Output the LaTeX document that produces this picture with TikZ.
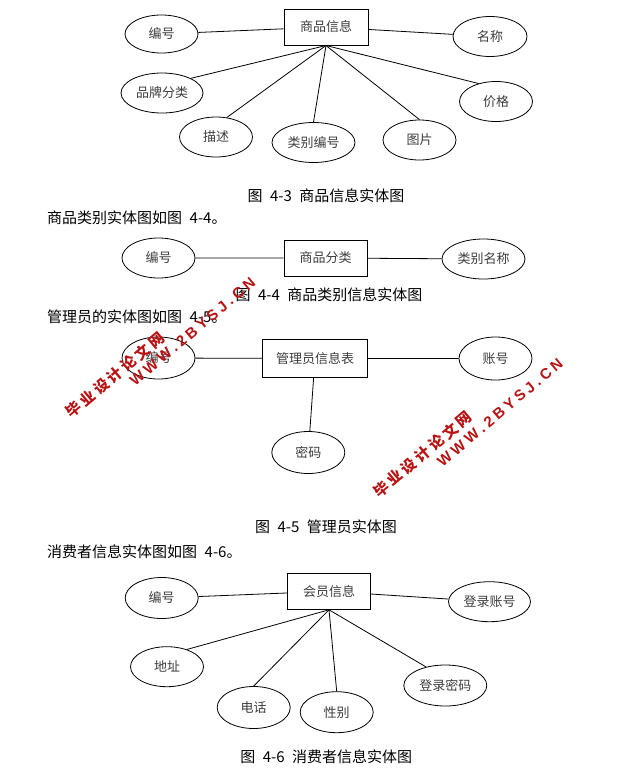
\documentclass[tikz,border=0pt]{standalone}
\usepackage{fontspec}
\setmainfont{Noto Sans CJK SC}
\newfontfamily\wmlatin{Liberation Sans}
\usepackage{tikz}
\usetikzlibrary{shapes.geometric}
\definecolor{wmred}{RGB}{185,18,18}
\definecolor{labgray}{RGB}{60,60,60}
\newcommand{\wmgap}{\hskip3pt}
\newcommand{\wmlgap}{\hskip3.5pt}
\newcommand{\gsp}{\hskip.5em}
\tikzset{
	entity/.style={draw, line width=1pt, minimum height=36pt, inner sep=0pt, text=labgray, font=\fontsize{13}{15}\selectfont},
	attr/.style={ellipse, draw, line width=0.8pt, minimum width=73pt, minimum height=40pt, inner sep=0pt, text=labgray, font=\fontsize{13}{15}\selectfont},
	link/.style={line width=0.8pt},
	body/.style={anchor=west, inner sep=0pt, font=\fontsize{15}{17}\selectfont},
	caption/.style={inner sep=0pt, font=\fontsize{15}{17}\selectfont},
	wmcn/.style={rotate=40, inner sep=0pt, text=wmred, font=\fontsize{15}{17}\selectfont\bfseries},
	wmurl/.style={rotate=40, inner sep=0pt, text=wmred, font=\wmlatin\fontsize{15}{17}\selectfont\bfseries}
}
\begin{document}
\begin{tikzpicture}[x=1pt, y=-1pt]
	\useasboundingbox (0,0) rectangle (639,772);
	\node[entity, minimum width=84pt] (goods) at (326,27) {商品信息};
	\node[attr, minimum height=38pt] (gbh) at (161.5,34) {编号};
	\node[attr, minimum width=74pt] (gmc) at (490,36.5) {名称};
	\node[attr, minimum width=82pt] (gppfl) at (162,93) {品牌分类};
	\node[attr] (gjg) at (496,101.5) {价格};
	\node[attr] (gms) at (216,137) {描述};
	\node[attr, minimum width=83pt] (glbbh) at (313.5,142.5) {类别编号};
	\node[attr] (gtp) at (419.5,140) {图片};
	\draw[link] (gbh) -- (goods) -- (gmc);
	\draw[link] (goods.south) -- (gppfl.27);
	\draw[link] (goods.south) -- (gms.61);
	\draw[link] (goods.south) -- (glbbh.north);
	\draw[link] (goods.south) -- (gtp.north);
	\draw[link] (goods.south) -- (gjg.134);
	\node[caption] (cap1) at (326,195.5) {图\gsp 4-3\gsp 商品信息实体图};
	\node[body] (txt1) at (47,218) {商品类别实体图如图\gsp 4-4。};
	
	\node[entity, minimum width=83pt] (cat) at (325.5,258) {商品分类};
	\node[attr] (cbh) at (158.5,258) {编号};
	\node[attr, minimum width=83pt] (clbmc) at (483.5,259) {类别名称};
	\draw[link] (cbh) -- (cat) -- (clbmc);
	\node[caption] (cap2) at (329,295) {图\gsp 4-4\gsp 商品类别信息实体图};
	\node[body] (txt2) at (47,317) {管理员的实体图如图\gsp 4-5。};
	
	\node[entity, minimum width=105pt, minimum height=38pt] (adm) at (315,358.5) {管理员信息表};
	\node[attr, minimum height=42pt] (abh) at (158.5,358) {编号};
	\node[attr, minimum height=43pt] (azh) at (495.5,358.5) {账号};
	\node[attr, minimum height=42pt] (amm) at (308.3,452.5) {密码};
	\draw[link] (abh) -- (adm) -- (azh);
	\draw[link] (adm) -- (amm);
	\node[caption] (cap3) at (326,527) {图\gsp 4-5\gsp 管理员实体图};
	\node[body] (txt3) at (47,551.5) {消费者信息实体图如图\gsp 4-6。};
	
	\node[entity, minimum width=83pt] (mem) at (329,591.3) {会员信息};
	\node[attr, minimum height=41pt] (mbh) at (161.7,598) {编号};
	\node[attr, minimum width=82pt] (mdlzh) at (489.5,601.7) {登录账号};
	\node[attr] (mdz) at (167,666.7) {地址};
	\node[attr, minimum height=42pt] (mdh) at (253.7,707.5) {电话};
	\node[attr, minimum height=41pt] (mxb) at (336.7,712.2) {性别};
	\node[attr, minimum width=83pt, minimum height=41pt] (mdlmm) at (445.3,685.5) {登录密码};
	\draw[link] (mbh) -- (mem) -- (mdlzh);
	\draw[link] (mem.south) -- (mdz.41);
	\draw[link] (mem.south) -- (mdh.north);
	\draw[link] (mem.south) -- (mxb.north);
	\draw[link] (mem.south) -- (mdlmm.136);
	\node[caption] (cap4) at (326.3,756.5) {图\gsp 4-6\gsp 消费者信息实体图};
	
	\node[wmcn] (wm1a) at (115,375) {毕\wmgap 业\wmgap 设\wmgap 计\wmgap 论\wmgap 文\wmgap 网};
	\node[wmurl] (wm1b) at (192.5,331.7) {W\wmlgap W\wmlgap W\wmlgap .\wmlgap 2\wmlgap B\wmlgap Y\wmlgap S\wmlgap J\wmlgap .\wmlgap C\wmlgap N};
	\node[wmcn] (wm2a) at (422.5,454.2) {毕\wmgap 业\wmgap 设\wmgap 计\wmgap 论\wmgap 文\wmgap 网};
	\node[wmurl] (wm2b) at (500,412.5) {W\wmlgap W\wmlgap W\wmlgap .\wmlgap 2\wmlgap B\wmlgap Y\wmlgap S\wmlgap J\wmlgap .\wmlgap C\wmlgap N};
\end{tikzpicture}
\end{document}
